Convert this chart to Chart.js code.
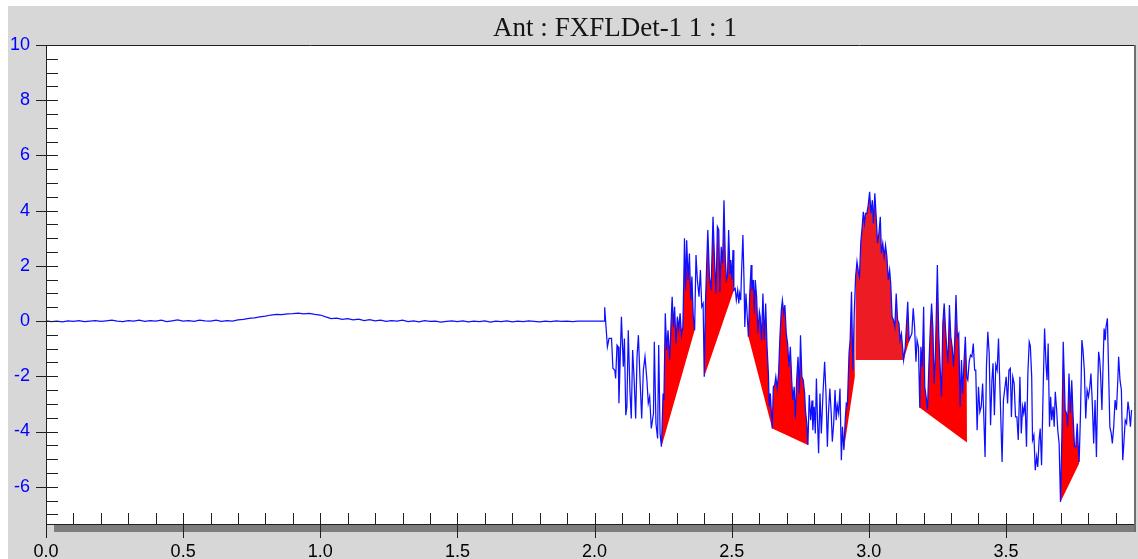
<!DOCTYPE html>
<html>
<head>
<meta charset="utf-8">
<title>Ant : FXFLDet-1 1 : 1</title>
<style>
  html, body { margin: 0; padding: 0; background: #ffffff; }
  #wrap { width: 1138px; height: 559px; }
  canvas { display: block; }
</style>
<script src="https://cdn.jsdelivr.net/npm/chart.js@4/dist/chart.umd.min.js"></script>
</head>
<body>
<div id="wrap"><canvas id="trace" width="1138" height="559"></canvas></div>
<script>
// Detector trace: time (x) against signal (y)
const chartTitle = 'Ant : FXFLDet-1 1 : 1';
const xRange = [0, 3.967];
const yRange = [-7.35, 10];
const xMajorStep = 0.5, xMinorStep = 0.1;
const yMajorStep = 2, yMinorStep = 0.5;

// quiet stretch before the burst
const quietTrace = [
  [0.00, 0.01], [0.02, -0.02], [0.04, 0.00], [0.06, -0.03], [0.08, 0.01], [0.10, -0.01],
  [0.12, 0.02], [0.14, -0.02], [0.16, 0.00], [0.18, 0.02], [0.20, -0.01], [0.22, 0.01],
  [0.24, 0.03], [0.26, 0.00], [0.28, -0.02], [0.30, 0.02], [0.32, 0.00], [0.34, 0.03],
  [0.36, -0.01], [0.38, 0.02], [0.40, 0.00], [0.42, 0.03], [0.44, -0.02], [0.46, 0.01],
  [0.48, 0.04], [0.50, 0.00], [0.52, 0.02], [0.54, -0.01], [0.56, 0.03], [0.58, 0.01],
  [0.60, 0.00], [0.62, 0.03], [0.64, -0.01], [0.66, 0.02], [0.68, 0.00], [0.70, 0.04],
  [0.72, 0.06], [0.74, 0.10], [0.76, 0.12], [0.78, 0.15], [0.80, 0.18], [0.82, 0.22],
  [0.84, 0.24], [0.86, 0.23], [0.88, 0.26], [0.90, 0.27], [0.92, 0.29], [0.94, 0.26],
  [0.96, 0.28], [0.98, 0.24], [1.00, 0.22], [1.02, 0.15], [1.04, 0.09], [1.06, 0.11],
  [1.08, 0.06], [1.10, 0.09], [1.12, 0.04], [1.14, 0.07], [1.16, 0.02], [1.18, 0.05],
  [1.20, 0.01], [1.22, 0.03], [1.24, -0.01], [1.26, 0.02], [1.28, 0.00], [1.30, 0.03],
  [1.32, -0.02], [1.34, 0.01], [1.36, -0.03], [1.38, 0.02], [1.40, -0.01], [1.42, 0.00],
  [1.44, -0.04], [1.46, -0.01], [1.48, 0.01], [1.50, -0.02], [1.52, 0.01], [1.54, -0.03],
  [1.56, 0.00], [1.58, -0.02], [1.60, 0.01], [1.62, -0.04], [1.64, 0.00], [1.66, -0.02],
  [1.68, 0.01], [1.70, -0.03], [1.72, 0.00], [1.74, -0.02], [1.76, 0.01], [1.78, -0.01],
  [1.80, -0.03], [1.82, 0.00], [1.84, -0.02], [1.86, 0.01], [1.88, -0.01], [1.90, 0.00],
  [1.92, -0.02], [1.94, 0.00], [1.96, 0.00], [1.98, 0.00], [2.00, 0.00], [2.02, 0.00],
  [2.035, 0.00]
];

// active stretch
const activeTrace = [
  [2.037, 0.50], [2.047, -0.93], [2.053, -0.63], [2.062, -0.63], [2.067, -1.71], [2.074, -1.78],
  [2.077, -2.08], [2.082, -0.87], [2.086, -0.93], [2.089, -2.98], [2.098, 0.16], [2.105, -1.65],
  [2.109, -0.63], [2.114, -3.41], [2.118, -3.10], [2.123, -0.33], [2.129, -2.50], [2.134, -3.53],
  [2.139, -1.05], [2.144, -2.02], [2.150, -3.53], [2.155, -1.29], [2.160, -0.51], [2.166, -2.14],
  [2.172, -3.53], [2.178, -1.78], [2.184, -1.29], [2.191, -2.14], [2.196, -2.98], [2.201, -2.74],
  [2.207, -3.89], [2.215, -3.34], [2.218, -0.75], [2.224, -3.71], [2.230, -4.25], [2.234, -0.87],
  [2.239, -4.07], [2.244, -4.55], [2.250, -2.62], [2.253, -2.86], [2.258, 0.28], [2.263, -1.05],
  [2.268, -0.33], [2.274, -1.41], [2.279, -0.08], [2.283, 0.88], [2.288, -0.21], [2.292, 0.52],
  [2.297, -0.81], [2.302, 0.16], [2.307, -0.27], [2.312, 0.28], [2.317, -0.51], [2.322, -0.21],
  [2.325, 1.24], [2.328, 3.00], [2.332, 1.12], [2.336, 2.93], [2.341, 1.49], [2.346, 2.45],
  [2.351, 0.76], [2.355, 1.61], [2.360, 0.16], [2.365, -0.33], [2.370, 2.39], [2.375, 1.49],
  [2.381, 0.88], [2.386, 1.85], [2.391, 0.52], [2.396, 0.64], [2.400, -2.02], [2.404, 0.52],
  [2.413, 3.30], [2.419, 1.61], [2.425, 1.12], [2.432, 3.78], [2.438, 2.09], [2.443, 1.00],
  [2.448, 3.42], [2.453, 3.30], [2.457, 1.06], [2.462, 2.69], [2.467, 2.09], [2.472, 4.38],
  [2.477, 2.21], [2.481, 1.49], [2.485, 1.61], [2.489, 3.30], [2.494, 1.73], [2.497, 2.21],
  [2.501, 1.49], [2.505, 2.57], [2.508, 1.12], [2.513, 1.18], [2.517, 0.76], [2.522, 1.12],
  [2.526, 0.64], [2.529, 1.00], [2.533, 0.76], [2.536, 1.73], [2.541, 3.12], [2.545, 1.49],
  [2.548, -0.21], [2.552, 1.00], [2.557, 0.16], [2.561, -0.57], [2.566, 1.00], [2.571, 2.03],
  [2.574, 1.12], [2.579, 1.49], [2.583, 0.28], [2.586, 1.49], [2.591, 0.88], [2.596, -0.45],
  [2.601, 0.34], [2.604, 0.16], [2.609, -0.69], [2.614, 1.00], [2.619, -0.69], [2.624, 0.64],
  [2.629, -0.93], [2.634, -1.90], [2.637, -3.10], [2.641, -2.62], [2.645, -3.34], [2.648, -3.89],
  [2.652, -2.38], [2.657, -2.32], [2.661, -2.02], [2.666, -2.44], [2.671, -1.90], [2.676, -0.57],
  [2.681, 0.40], [2.685, 0.76], [2.690, 0.28], [2.694, 0.58], [2.699, -0.45], [2.704, -0.81],
  [2.709, -1.65], [2.714, -0.93], [2.719, -2.14], [2.723, -2.86], [2.728, -2.38], [2.732, -3.53],
  [2.737, -2.14], [2.742, -1.29], [2.747, -2.62], [2.751, -0.51], [2.756, -2.02], [2.761, -2.14],
  [2.766, -2.62], [2.769, -3.22], [2.774, -3.71], [2.778, -4.49], [2.783, -2.68], [2.788, -3.59],
  [2.793, -2.88], [2.796, -3.95], [2.801, -3.10], [2.805, -4.07], [2.809, -2.08], [2.813, -3.59],
  [2.817, -4.79], [2.822, -2.62], [2.827, -4.07], [2.833, -2.62], [2.839, -1.47], [2.844, -2.62],
  [2.849, -4.55], [2.853, -3.34], [2.858, -2.44], [2.863, -3.34], [2.867, -4.37], [2.872, -3.71],
  [2.877, -2.50], [2.881, -3.59], [2.885, -3.04], [2.890, -3.34], [2.895, -2.44], [2.900, -5.04],
  [2.904, -3.83], [2.909, -4.67], [2.914, -3.59], [2.918, -2.98], [2.922, -3.04], [2.928, -1.17],
  [2.932, -0.69], [2.937, 1.06], [2.942, -1.78], [2.947, 0.28], [2.952, 1.61], [2.957, 2.15],
  [2.962, 1.79], [2.966, 1.61], [2.971, 2.87], [2.976, 3.42], [2.980, 3.96], [2.984, 3.54],
  [2.988, 3.90], [2.993, 3.90], [2.998, 4.20], [3.003, 4.68], [3.008, 3.90], [3.013, 4.38],
  [3.017, 3.54], [3.022, 4.63], [3.027, 3.78], [3.032, 2.82], [3.037, 3.18], [3.042, 3.78],
  [3.046, 2.45], [3.051, 2.82], [3.056, 2.33], [3.061, 2.75], [3.066, 2.33], [3.071, 1.49],
  [3.076, 1.85], [3.080, 1.37], [3.085, 0.16], [3.090, 0.04], [3.095, -0.21], [3.100, 1.00],
  [3.105, 0.04], [3.110, -0.08], [3.114, -0.69], [3.119, -0.45], [3.124, -1.05], [3.127, -1.41],
  [3.133, -0.93], [3.137, -0.21], [3.142, 0.70], [3.147, -0.69], [3.152, -0.57], [3.157, -0.45],
  [3.162, 0.46], [3.167, -0.21], [3.172, -1.47], [3.176, -0.69], [3.181, -0.93], [3.186, -3.14],
  [3.190, -0.93], [3.195, -1.65], [3.200, 0.52], [3.204, -2.38], [3.209, -2.74], [3.214, -3.22],
  [3.219, -1.65], [3.224, -0.33], [3.229, 0.64], [3.234, -0.33], [3.238, -2.26], [3.243, -1.17],
  [3.246, 0.16], [3.250, 2.03], [3.255, -0.45], [3.260, -1.65], [3.265, -2.74], [3.270, -0.08],
  [3.275, 0.64], [3.280, -0.33], [3.284, -0.93], [3.289, -1.53], [3.294, 0.58], [3.299, -0.57],
  [3.304, -0.93], [3.309, -1.65], [3.313, -0.81], [3.318, 0.94], [3.323, -0.57], [3.328, -0.45],
  [3.333, -3.10], [3.338, -1.41], [3.342, -2.62], [3.347, -1.53], [3.352, -0.57], [3.357, -2.02],
  [3.361, -2.14], [3.366, -1.47], [3.371, -1.23], [3.376, -1.29], [3.381, -0.81], [3.386, -1.78],
  [3.390, -1.78], [3.395, -3.95], [3.400, -2.38], [3.405, -3.29], [3.410, -3.10], [3.415, -2.26],
  [3.419, -3.34], [3.424, -4.92], [3.429, -1.65], [3.434, -0.39], [3.439, -1.17], [3.444, -3.77],
  [3.449, -2.14], [3.453, -1.53], [3.458, -3.41], [3.463, -1.59], [3.468, -1.78], [3.473, -0.63],
  [3.478, -2.38], [3.486, -5.10], [3.491, -2.86], [3.496, -2.44], [3.501, -2.02], [3.506, -2.98],
  [3.511, -1.78], [3.516, -1.71], [3.520, -3.47], [3.525, -2.02], [3.530, -2.26], [3.535, -3.47],
  [3.540, -3.47], [3.545, -4.31], [3.551, -2.02], [3.556, -4.07], [3.561, -3.10], [3.565, -3.34],
  [3.570, -2.92], [3.575, -4.55], [3.580, -1.90], [3.585, -0.75], [3.589, -0.90], [3.594, -2.02],
  [3.597, -4.31], [3.602, -4.13], [3.607, -5.40], [3.612, -4.92], [3.616, -5.28], [3.621, -4.31],
  [3.625, -3.89], [3.630, -5.22], [3.636, -2.38], [3.641, -0.27], [3.646, -1.53], [3.650, -2.14],
  [3.654, -0.81], [3.659, -3.83], [3.663, -2.74], [3.667, -3.59], [3.672, -3.10], [3.676, -3.83],
  [3.680, -2.56], [3.685, -3.22], [3.689, -3.95], [3.694, -4.43], [3.699, -6.55], [3.704, -4.19],
  [3.709, -0.75], [3.713, -2.14], [3.716, -3.22], [3.721, -3.34], [3.725, -3.83], [3.730, -1.90],
  [3.735, -3.34], [3.740, -2.14], [3.745, -3.47], [3.750, -4.55], [3.755, -4.55], [3.760, -3.71],
  [3.763, -4.43], [3.767, -5.10], [3.772, -3.34], [3.777, -0.69], [3.781, -1.05], [3.786, -1.78],
  [3.791, -3.53], [3.796, -2.50], [3.801, -2.74], [3.806, -2.38], [3.810, -1.90], [3.815, -2.98],
  [3.820, -4.43], [3.825, -2.86], [3.830, -4.92], [3.835, -2.26], [3.838, -1.11], [3.842, -1.41],
  [3.845, -1.90], [3.850, -3.22], [3.855, -1.29], [3.858, -0.27], [3.862, -0.69], [3.865, -0.21],
  [3.870, 0.10], [3.874, -1.65], [3.879, -3.83], [3.884, -4.07], [3.888, -4.43], [3.893, -3.83],
  [3.898, -2.86], [3.903, -3.22], [3.908, -2.14], [3.911, -1.29], [3.916, -2.14], [3.921, -2.50],
  [3.926, -5.04], [3.930, -4.43], [3.935, -3.59], [3.940, -3.71], [3.945, -2.92], [3.949, -3.22],
  [3.954, -3.83], [3.958, -3.22]
];

// integrated peaks: time window and baseline level at each end
const peakStart     = [2.244, 2.400, 2.561, 2.648, 2.909, 2.950, 3.127, 3.186, 3.699];
const peakEnd       = [2.365, 2.508, 2.648, 2.778, 2.949, 3.127, 3.152, 3.358, 3.767];
const baselineStart = [-4.55, -2.02, -0.57, -3.89, -4.67, -1.41, -1.41, -3.14, -6.55];
const baselineEnd   = [-0.33,  1.12, -3.89, -4.49, -2.02, -1.41, -0.57, -4.40, -5.16];
const peakColors    = ['#ff0000', '#ff0000', '#ff0000', '#ff0000', '#ff0000', '#ed1c24', '#ff0000', '#ff0000', '#ff0000'];

const tracePoints = quietTrace.concat(activeTrace).map(([x, y]) => ({ x, y }));

// each peak area is closed by its baseline
const peakDatasets = peakStart.map((t0, i) => {
  const t1 = peakEnd[i];
  const inside = tracePoints.filter(p => p.x >= t0 && p.x <= t1);
  const shape = [{ x: t0, y: baselineStart[i] }].concat(inside, [{ x: t1, y: baselineEnd[i] }]);
  return {
    label: 'peak ' + (i + 1),
    data: shape,
    borderWidth: 0,
    borderColor: 'rgba(0,0,0,0)',
    backgroundColor: peakColors[i],
    pointRadius: 0,
    fill: 'shape',
    tension: 0
  };
});

const PANEL = '#d7d7d7';

const framePlugin = {
  id: 'frame',
  beforeDraw(chart) {
    const { ctx, chartArea: a } = chart;
    ctx.save();
    ctx.fillStyle = '#ffffff';
    ctx.fillRect(0, 0, chart.width, chart.height);
    ctx.fillStyle = PANEL;
    ctx.fillRect(8, 6, chart.width - 8, chart.height - 6);
    ctx.fillStyle = '#ffffff';
    ctx.fillRect(a.left, a.top, a.right - a.left, a.bottom - a.top);
    ctx.restore();
  },
  afterDraw(chart) {
    const { ctx, chartArea: a, scales } = chart;
    const xs = scales.x, ys = scales.y;
    ctx.save();

    // shaded strip under the time axis
    ctx.fillStyle = '#7d7d7d';
    ctx.fillRect(54, a.bottom + 1, a.right - 54, 7);

    // right edge
    ctx.fillStyle = '#6e6e6e';
    ctx.fillRect(a.right, a.top, 2, a.bottom - a.top + 8);

    ctx.strokeStyle = '#202020';
    ctx.lineWidth = 1;
    ctx.beginPath();
    // top border
    ctx.moveTo(36, a.top + 0.5); ctx.lineTo(a.right, a.top + 0.5);
    // y axis line
    ctx.moveTo(a.left + 0.5, a.top); ctx.lineTo(a.left + 0.5, a.bottom + 11);
    // x axis line
    ctx.moveTo(a.left, a.bottom + 0.5); ctx.lineTo(a.right, a.bottom + 0.5);
    ctx.stroke();

    // y ticks
    ctx.beginPath();
    const yLo = Math.ceil(yRange[0] / yMinorStep), yHi = Math.floor(yRange[1] / yMinorStep);
    for (let k = yLo; k <= yHi; k++) {
      const v = k * yMinorStep;
      const py = Math.round(ys.getPixelForValue(v)) + 0.5;
      const major = Math.abs(v / yMajorStep - Math.round(v / yMajorStep)) < 1e-6;
      ctx.moveTo(major ? a.left - 10 : a.left, py);
      ctx.lineTo(a.left + 12, py);
    }
    // x ticks
    const xLo = Math.ceil(xRange[0] / xMinorStep), xHi = Math.floor(xRange[1] / xMinorStep);
    for (let k = xLo; k <= xHi; k++) {
      const v = k * xMinorStep;
      const px = Math.round(xs.getPixelForValue(v)) + 0.5;
      const major = Math.abs(v / xMajorStep - Math.round(v / xMajorStep)) < 1e-6;
      if (k === 0) { ctx.moveTo(px, a.bottom); ctx.lineTo(px, a.bottom + 14); continue; }
      ctx.moveTo(px, a.bottom - 11);
      ctx.lineTo(px, major ? a.bottom + 14 : a.bottom);
    }
    ctx.stroke();

    // title
    ctx.fillStyle = '#141414';
    ctx.font = '27px "Liberation Serif", "Times New Roman", serif';
    ctx.textAlign = 'center';
    ctx.textBaseline = 'alphabetic';
    ctx.fillText(chartTitle, 615, 36);
    ctx.restore();
  }
};

new Chart(document.getElementById('trace'), {
  type: 'line',
  data: {
    datasets: [
      {
        label: 'signal',
        data: tracePoints,
        borderColor: '#0f0fff',
        borderWidth: 1.25,
        pointRadius: 0,
        fill: false,
        tension: 0
      }
    ].concat(peakDatasets)
  },
  options: {
    responsive: false,
    animation: false,
    devicePixelRatio: 1,
    layout: { padding: { left: 0, right: 4, top: 45, bottom: 0 } },
    plugins: {
      legend: { display: false },
      tooltip: { enabled: false },
      title: { display: false }
    },
    events: [],
    scales: {
      x: {
        type: 'linear',
        min: xRange[0],
        max: xRange[1],
        grid: { display: false, drawTicks: false },
        border: { display: false },
        ticks: {
          stepSize: xMajorStep,
          includeBounds: false,
          maxRotation: 0,
          autoSkip: false,
          padding: 17,
          color: '#000000',
          font: { family: '"Liberation Sans", Arial, sans-serif', size: 18 },
          callback: v => Number(v).toFixed(1)
        },
        afterFit(scale) { scale.height = 35; }
      },
      y: {
        type: 'linear',
        min: yRange[0],
        max: yRange[1],
        grid: { display: false, drawTicks: false },
        border: { display: false },
        ticks: {
          stepSize: yMajorStep,
          includeBounds: false,
          autoSkip: false,
          padding: 16,
          color: '#0000ff',
          font: { family: '"Liberation Sans", Arial, sans-serif', size: 18 },
          callback: v => String(v)
        },
        afterFit(scale) { scale.width = 46; }
      }
    }
  },
  plugins: [framePlugin]
});
</script>
</body>
</html>
